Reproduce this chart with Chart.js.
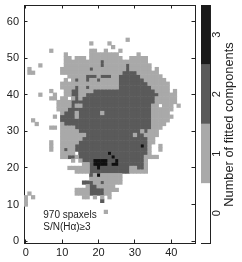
<!DOCTYPE html>
<html>
<head>
<meta charset="utf-8">
<style>
  html, body { margin: 0; padding: 0; background: #fff; }
  canvas { position: absolute; left: 0; top: 0; }
</style>
<script src="https://cdn.jsdelivr.net/npm/chart.js@4"></script>
</head>
<body>
<canvas id="mapChart" width="242" height="262"></canvas>
<canvas id="barChart" width="242" height="262"></canvas>
<script>
// --- Data ---
// runs are [row, first column, last column]
const footprintRuns = [
  [55,28,28],[54,18,18],[54,23,23],[53,24,24],
  [52,7,7],[52,18,19],[52,22,22],[52,26,26],
  [51,11,11],[51,18,25],[51,31,31],
  [50,11,12],[50,14,16],[50,18,26],[50,29,33],
  [49,11,33],[48,4,4],[48,11,34],
  [47,1,1],[47,10,34],[47,36,36],
  [46,1,2],[46,10,36],[45,12,37],[44,11,11],[44,13,38],
  [43,10,39],[42,10,39],[41,7,7],[41,11,39],[41,41,41],
  [40,4,4],[40,8,8],[40,11,41],[39,7,8],[39,10,11],[39,13,41],
  [38,9,41],[37,9,36],[37,38,40],[37,42,42],[36,9,40],[35,10,39],
  [34,8,8],[34,10,40],[33,2,2],[33,10,39],[32,3,3],[32,10,38],
  [31,7,8],[31,10,37],[30,10,36],[29,10,36],[28,10,35],
  [27,7,7],[27,10,35],[26,7,7],[26,10,34],[26,37,37],
  [25,7,7],[25,10,34],[25,37,37],
  [24,10,13],[24,15,34],[23,10,14],[23,15,36],[22,13,13],[22,15,33],
  [21,16,33],[20,12,33],[19,14,33],[18,18,26],[17,18,26],[16,16,26],
  [15,17,24],[14,14,25],[13,1,1],[13,14,23],
  [12,0,0],[12,2,2],[12,16,17],[12,19,19],[12,21,21],[12,23,23],
  [11,0,0],[11,21,21],[10,0,0],[8,22,22]
];
const twoComponentRuns = [
  [49,21,21],[48,21,21],[48,28,28],[47,18,18],[47,28,28],[46,27,30],
  [45,17,19],[45,21,23],[45,26,31],
  [44,14,14],[44,17,17],[44,20,20],[44,26,32],[43,26,33],
  [42,14,14],[42,17,17],[42,26,34],[41,13,14],[41,19,35],
  [40,13,14],[40,17,36],[39,14,14],[39,16,35],[38,13,35],
  [37,13,13],[37,16,34],[36,12,34],[35,11,13],[35,15,20],[35,22,34],
  [34,10,13],[34,15,34],[33,10,34],[32,11,34],[31,14,34],[30,15,31],[30,33,33],
  [29,17,29],[29,31,32],[28,16,33],[27,15,33],[26,14,33],[25,11,11],[25,14,33],
  [24,15,33],[23,12,12],[23,13,13],[23,15,32],[22,16,32],[21,18,32],
  [20,18,28],[20,31,32],[19,18,28],[18,18,18],[16,16,18],[16,21,21],
  [15,18,19],[14,18,21],[13,18,21],[11,21,21]
];
const threeComponentRuns = [
  [26,32,32],[24,23,23],[23,24,24],[22,19,22],[22,25,25],
  [21,19,22],[21,24,25],[20,20,20],[18,20,20]
];
const xTickValues = [0, 10, 20, 30, 40];
const yTickValues = [0, 10, 20, 30, 40, 50, 60];
const levelColors = ["#ffffff", "#a9a9a9", "#5a5a5a", "#101010"];
const barLevels = [0, 1, 2, 3];
const noteLines = ["970 spaxels", "S/N(Hα)≥3"];
const barTitle = "Number of fitted components";

const axisColor = "#222222";
const fontFamily = "'Liberation Sans', Arial, sans-serif";

// --- Build cells per level ---
const cellLevel = {};
function paint(runs, level) {
    for (const [row, first, last] of runs) {
        for (let col = first; col <= last; col++) cellLevel[col + "," + row] = level;
    }
}
paint(footprintRuns, 1);
paint(twoComponentRuns, 2);
paint(threeComponentRuns, 3);

function cellsAt(level) {
    const out = [];
    for (const key in cellLevel) {
        if (cellLevel[key] === level) {
            const parts = key.split(",");
            out.push({ x: +parts[0], y: +parts[1] });
        }
    }
    return out;
}

function fixedTicks(values) {
    return function (scale) {
        scale.ticks = values.map(v => ({ value: v }));
    };
}

// fix an axis band and stop its labels pushing the plot area around
function fitBand(size) {
    return function (scale) {
        if (scale.isHorizontal()) scale.height = size;
        else scale.width = size;
        scale.paddingTop = 0;
        scale.paddingBottom = 0;
        scale.paddingLeft = 0;
        scale.paddingRight = 0;
    };
}

// --- Notes and colour bar title ---
const notePlugin = {
    id: "notes",
    afterDraw(chart) {
        const c = chart.ctx;
        c.save();
        c.fillStyle = "#222";
        c.font = "10px " + fontFamily;
        c.fillText(noteLines[0], chart.scales.x.getPixelForValue(4.8), chart.scales.y.getPixelForValue(6.3));
        c.fillText(noteLines[1], chart.scales.x.getPixelForValue(4.8), chart.scales.y.getPixelForValue(3.1));
        c.restore();
    }
};

const barTitlePlugin = {
    id: "barTitle",
    afterDraw(chart) {
        const c = chart.ctx;
        c.save();
        c.translate(229, 124.5);
        c.rotate(-Math.PI / 2);
        c.fillStyle = "#222";
        c.font = "12.8px " + fontFamily;
        c.textAlign = "center";
        c.textBaseline = "middle";
        c.fillText(barTitle, 0, 0);
        c.restore();
    }
};

function edgeAxis(position, min, max, values) {
    return {
        position: position,
        min: min,
        max: max,
        afterBuildTicks: fixedTicks(values),
        afterFit: fitBand(0),
        border: { display: true, color: axisColor, width: 1 },
        grid: { display: true, drawOnChartArea: false, drawTicks: true, tickLength: -3.5, color: axisColor },
        ticks: { display: false }
    };
}

// --- Map chart ---
new Chart(document.getElementById("mapChart").getContext("2d"), {
    type: "scatter",
    data: {
        datasets: [1, 2, 3].map(level => ({
            data: cellsAt(level),
            pointStyle: "rect",
            pointRadius: 3,
            pointBorderWidth: 0,
            pointBackgroundColor: levelColors[level],
            borderWidth: 0
        }))
    },
    options: {
        responsive: false,
        animation: false,
        layout: { padding: { left: 0, right: 47, top: 5, bottom: 0 } },
        plugins: { legend: { display: false }, tooltip: { enabled: false } },
        scales: {
            x: {
                type: "linear",
                min: -0.5,
                max: 46.5,
                afterBuildTicks: fixedTicks(xTickValues),
                afterFit: fitBand(19),
                border: { display: true, color: axisColor, width: 1 },
                grid: { drawOnChartArea: false, tickLength: -3.5, color: axisColor },
                ticks: { color: "#222", font: { size: 11, family: fontFamily }, padding: 7, maxRotation: 0 }
            },
            y: {
                type: "linear",
                min: -0.5,
                max: 64.5,
                afterBuildTicks: fixedTicks(yTickValues),
                afterFit: fitBand(24),
                border: { display: true, color: axisColor, width: 1 },
                grid: { drawOnChartArea: false, tickLength: -3.5, color: axisColor },
                ticks: { color: "#222", font: { size: 11, family: fontFamily }, padding: 8.5 }
            },
            xTop: edgeAxis("top", -0.5, 46.5, xTickValues),
            yRight: edgeAxis("right", -0.5, 64.5, yTickValues)
        }
    },
    plugins: [notePlugin]
});

// --- Colour bar ---
new Chart(document.getElementById("barChart").getContext("2d"), {
    type: "bar",
    data: {
        labels: [""],
        datasets: barLevels.map(level => ({
            data: [[level - 0.5, level + 0.5]],
            backgroundColor: level === 3 ? "#1a1a1a" : levelColors[level],
            borderWidth: 0,
            barPercentage: 1,
            categoryPercentage: 1,
            grouped: false
        }))
    },
    options: {
        responsive: false,
        animation: false,
        layout: { padding: { left: 201, right: 0, top: 5, bottom: 19 } },
        plugins: { legend: { display: false }, tooltip: { enabled: false } },
        scales: {
            x: {
                afterFit: fitBand(0),
                border: { display: true, color: axisColor, width: 1 },
                grid: { display: false },
                ticks: { display: false }
            },
            y: {
                position: "right",
                min: -0.5,
                max: 3.5,
                afterBuildTicks: fixedTicks(barLevels),
                afterFit: fitBand(32),
                border: { display: true, color: axisColor, width: 1 },
                grid: { drawOnChartArea: false, tickLength: -4, color: axisColor },
                ticks: { color: "#222", font: { size: 11, family: fontFamily }, padding: 8, minRotation: 90, autoSkip: false, crossAlign: "center" }
            },
            xTop: {
                position: "top",
                afterFit: fitBand(0),
                border: { display: true, color: axisColor, width: 1 },
                grid: { display: false },
                ticks: { display: false }
            },
            yLeft: {
                position: "left",
                min: -0.5,
                max: 3.5,
                afterFit: fitBand(0),
                border: { display: true, color: axisColor, width: 1 },
                grid: { display: false },
                ticks: { display: false }
            }
        }
    },
    plugins: [barTitlePlugin]
});
</script>
</body>
</html>
